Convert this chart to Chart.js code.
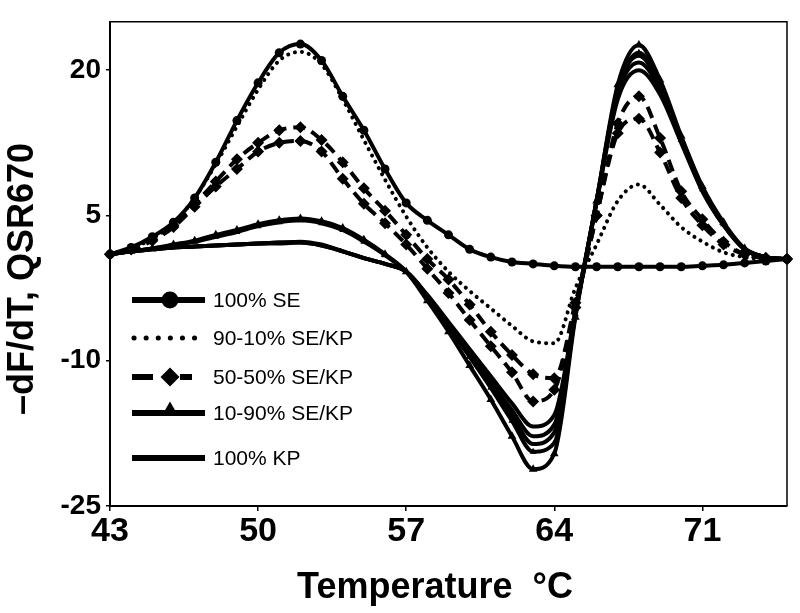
<!DOCTYPE html>
<html>
<head>
<meta charset="utf-8">
<script src="https://cdn.jsdelivr.net/npm/chart.js@4"></script>
<style>
  html, body { margin: 0; padding: 0; background: #fff; }
</style>
</head>
<body>
<canvas id="meltChart" width="800" height="613"></canvas>
<script>
// temperature axis (deg C), one reading per degree
const temps = [43, 44, 45, 46, 47, 48, 49, 50, 51, 52, 53, 54, 55, 56, 57, 58, 59, 60, 61, 62, 63, 64, 65, 66, 67, 68, 69, 70, 71, 72, 73, 74, 75];
const xTicks = [43, 50, 57, 64, 71];
const yTicks = [-25, -10, 5, 20];

// -dF/dT curves
const se100 = [1.0, 1.7, 2.8, 4.3, 6.8, 10.5, 14.8, 18.7, 21.8, 22.7, 21.0, 17.3, 13.8, 9.8, 6.3, 4.5, 3.0, 1.5, 0.7, 0.2, 0.0, -0.2, -0.3, -0.3, -0.3, -0.3, -0.3, -0.3, -0.2, -0.1, 0.1, 0.3, 0.5];
const se90 = [1.0, 1.6, 2.6, 4.2, 6.8, 10.3, 14.2, 18.0, 21.0, 21.9, 20.6, 17.0, 12.8, 8.7, 4.9, 1.7, -0.8, -2.8, -4.6, -6.4, -8.0, -8.2, -2.5, 2.0, 6.5, 8.2, 6.1, 3.8, 2.3, 1.2, 0.7, 0.5, 0.5];
const se50a = [1.0, 1.5, 2.5, 4.0, 6.2, 8.5, 10.8, 12.5, 13.8, 14.1, 12.8, 10.5, 7.8, 5.5, 3.0, 0.5, -1.6, -4.2, -7.0, -9.4, -11.4, -11.8, -4.0, 5.0, 14.5, 17.3, 13.0, 7.5, 4.6, 2.3, 1.0, 0.6, 0.5];
const se50b = [1.0, 1.5, 2.4, 3.8, 5.9, 8.0, 9.8, 11.6, 12.5, 12.7, 11.6, 8.8, 6.2, 4.2, 2.0, -0.5, -3.0, -5.8, -8.5, -11.2, -14.2, -13.0, -4.5, 5.0, 13.5, 15.0, 11.5, 6.8, 4.0, 2.0, 1.0, 0.6, 0.5];
const se10a = [1.0, 1.3, 1.6, 2.0, 2.4, 3.0, 3.5, 4.1, 4.5, 4.7, 4.4, 3.7, 2.5, 1.0, -0.8, -3.8, -7.0, -10.5, -14.0, -17.8, -21.2, -19.6, -5.5, 6.5, 18.5, 22.6, 19.0, 13.2, 8.0, 4.3, 1.6, 0.7, 0.5];
const se10b = [1.0, 1.3, 1.6, 1.9, 2.3, 2.8, 3.3, 3.9, 4.3, 4.5, 4.2, 3.5, 2.3, 0.9, -0.8, -3.5, -6.5, -9.6, -12.8, -16.2, -19.4, -18.5, -5.2, 6.3, 18.0, 21.8, 18.6, 12.8, 7.7, 4.1, 1.5, 0.7, 0.5];
const kp100a = [1.0, 1.3, 1.5, 1.7, 1.8, 1.9, 2.0, 2.1, 2.2, 2.2, 1.9, 1.3, 0.6, 0.0, -0.8, -3.2, -6.0, -8.8, -11.6, -14.4, -16.8, -15.6, -4.8, 6.4, 17.0, 20.0, 17.5, 12.5, 7.5, 4.0, 1.5, 0.7, 0.5];
const kp100b = [1.0, 1.3, 1.5, 1.7, 1.8, 1.9, 2.0, 2.1, 2.1, 2.2, 1.9, 1.3, 0.6, 0.0, -0.8, -3.3, -6.2, -9.2, -12.2, -15.1, -17.8, -16.6, -5.0, 6.5, 17.6, 20.8, 18.0, 12.8, 7.6, 4.0, 1.5, 0.7, 0.5];
const kp100c = [1.0, 1.3, 1.5, 1.7, 1.8, 1.9, 2.0, 2.1, 2.2, 2.3, 2.0, 1.3, 0.6, 0.0, -0.8, -3.4, -6.4, -9.5, -12.7, -15.7, -18.6, -17.4, -5.2, 6.6, 18.0, 21.5, 18.4, 13.0, 7.8, 4.1, 1.5, 0.7, 0.5];

const legendNames = ['100% SE', '90-10% SE/KP', '50-50% SE/KP', '10-90% SE/KP', '100% KP'];
const xTitle = 'Temperature  \u00B0C';
const yTitle = '\u2013dF/dT, QSR670';

const FONT = '"Liberation Sans", Arial, sans-serif';

function pts(values) {
  return values.map((v, i) => ({ x: temps[i], y: v }));
}

function line(values, extra) {
  return Object.assign({
    data: pts(values),
    borderColor: '#000',
    backgroundColor: '#000',
    borderWidth: 4,
    pointRadius: 0,
    pointBorderWidth: 0,
    fill: false,
    cubicInterpolationMode: 'monotone',
    clip: false
  }, extra);
}

const datasets = [
  line(se100, { group: 0, pointStyle: 'circle', pointRadius: 4.5 }),
  line(se90, { group: 1, borderDash: [0.1, 7], borderCapStyle: 'round' }),
  line(se50a, { group: 2, borderDash: [12, 7], pointStyle: 'rectRot', pointRadius: 6 }),
  line(se50b, { group: 2, borderDash: [12, 7], pointStyle: 'rectRot', pointRadius: 6 }),
  line(se10a, { group: 3, pointStyle: 'triangle', pointRadius: 5 }),
  line(se10b, { group: 3, pointStyle: 'triangle', pointRadius: 4 }),
  line(kp100a, { group: 4 }),
  line(kp100b, { group: 4 }),
  line(kp100c, { group: 4 })
];

// legend sample look: [dash pattern, start x, end x, marker radius]
const legendLook = [
  [[], 132, 205, 8.5],
  [[0.1, 12], 134, 200, 0],
  [[21, 27, 12, 100], 132, 192, 9.5],
  [[], 132, 205, 9.5],
  [[], 132, 205, 0]
];

// frame, axis titles and the in-plot legend
const decor = {
  id: 'decor',
  afterDraw(chart) {
    const { ctx, chartArea: a } = chart;
    ctx.save();
    ctx.strokeStyle = '#000';
    ctx.fillStyle = '#000';
    ctx.lineWidth = 1.5;
    ctx.beginPath();
    ctx.moveTo(a.left, a.top);
    ctx.lineTo(a.right, a.top);
    ctx.lineTo(a.right, a.bottom);
    ctx.stroke();

    ctx.font = 'bold 36px ' + FONT;
    ctx.textAlign = 'center';
    ctx.textBaseline = 'alphabetic';
    ctx.fillText(xTitle, 435, 598);
    ctx.save();
    ctx.translate(33, 279);
    ctx.rotate(-Math.PI / 2);
    ctx.fillText(yTitle, 0, 0);
    ctx.restore();

    const rows = [300, 338, 377, 413, 458];
    ctx.font = '21px ' + FONT;
    ctx.textAlign = 'left';
    ctx.textBaseline = 'middle';
    legendNames.forEach((name, i) => {
      const ds = datasets.find(d => d.group === i);
      const [dash, x0, x1, r] = legendLook[i];
      const y = rows[i];
      ctx.save();
      ctx.lineWidth = i === 1 ? 5 : 6;
      ctx.lineCap = i === 1 ? 'round' : 'butt';
      ctx.setLineDash(dash);
      ctx.beginPath();
      ctx.moveTo(x0, y);
      ctx.lineTo(x1, y);
      ctx.stroke();
      ctx.restore();
      if (r > 0) {
        Chart.helpers.drawPoint(ctx, { pointStyle: ds.pointStyle, radius: r, borderWidth: 0, rotation: 0 }, 170, ds.pointStyle === 'triangle' ? y - 2 : y);
      }
      ctx.fillText(name, 213, y + 1);
    });
    ctx.restore();
  }
};

new Chart(document.getElementById('meltChart'), {
  type: 'line',
  data: { datasets },
  plugins: [decor],
  options: {
    responsive: false,
    animation: false,
    layout: { padding: { top: 6, right: 13, left: 0, bottom: 0 } },
    plugins: { legend: { display: false }, tooltip: { enabled: false } },
    scales: {
      x: {
        type: 'linear',
        min: 43,
        max: 75,
        afterBuildTicks: (s) => { s.ticks = xTicks.map(v => ({ value: v })); },
        afterFit: (s) => { s.height = 107; },
        grid: { display: true, drawOnChartArea: false, drawTicks: true, tickLength: 5, color: '#000', lineWidth: 1.5 },
        border: { display: true, color: '#000', width: 2 },
        ticks: { color: '#000', padding: 0, maxRotation: 0, font: { family: FONT, size: 34, weight: 'bold' } }
      },
      y: {
        type: 'linear',
        min: -25,
        max: 25,
        afterBuildTicks: (s) => { s.ticks = yTicks.map(v => ({ value: v })); },
        afterFit: (s) => { s.width = 110; },
        grid: { display: true, drawOnChartArea: false, drawTicks: true, tickLength: 4, color: '#000', lineWidth: 1.5 },
        border: { display: true, color: '#000', width: 2 },
        ticks: { color: '#000', padding: 5, font: { family: FONT, size: 28, weight: 'bold' } }
      }
    }
  }
});
</script>
</body>
</html>
